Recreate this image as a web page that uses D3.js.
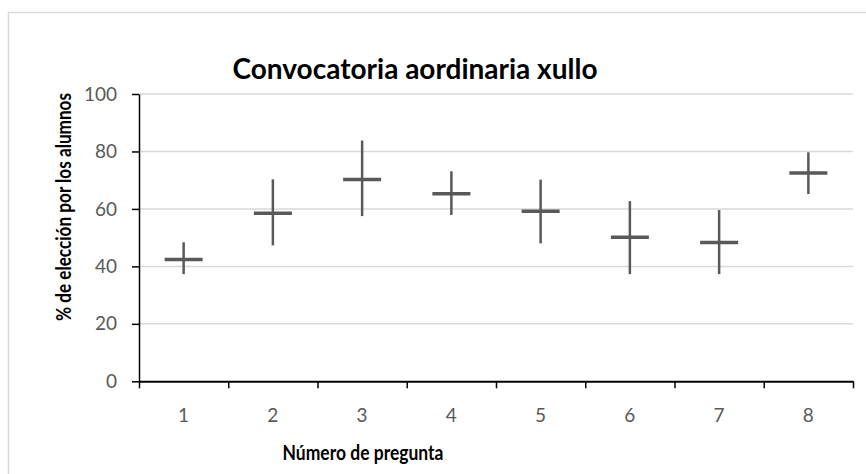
<!DOCTYPE html>
<html>
<head>
<meta charset="utf-8">
<script src="https://cdn.jsdelivr.net/npm/d3@7"></script>
<style>
  body { margin: 0; background: #fff; }
  svg { display: block; }
  text { font-family: Lato, "Open Sans", sans-serif; }
</style>
</head>
<body>
<div id="chart"></div>
<script>
// datos leidos do grafico
var preguntas = [1, 2, 3, 4, 5, 6, 7, 8];
var media  = [42.4, 58.5, 70.2, 65.3, 59.2, 50.1, 48.3, 72.5];
var maximo = [48.4, 70.3, 83.8, 73.1, 70.2, 62.7, 59.6, 79.7];
var minimo = [37.3, 47.3, 57.5, 57.9, 48.0, 37.3, 37.3, 65.2];
var yTicks = [0, 20, 40, 60, 80, 100];

var titulo = "Convocatoria aordinaria xullo";
var tituloX = "Número de pregunta";
var tituloY = "% de elección por los alumnos";

var W = 866, H = 474;
var plotLeft = 139, plotRight = 853, plotTop = 94, plotBottom = 381.3;

var svg = d3.select("#chart").append("svg")
    .attr("width", W)
    .attr("height", H);

// marco do grafico
svg.append("rect")
    .attr("x", 8.5).attr("y", 12.5)
    .attr("width", W + 10).attr("height", H + 10)
    .style("fill", "#fff")
    .style("stroke", "#d9d9d9")
    .style("stroke-width", 1.5);

var xScale = d3.scaleBand().domain(preguntas).range([plotLeft, plotRight]);
var xEdge = d3.scaleLinear().domain([0, preguntas.length]).range([plotLeft, plotRight]);
var yScale = d3.scaleLinear().domain([0, 100]).range([plotBottom, plotTop]);

// grella
svg.append("g").selectAll("line")
    .data(yTicks.filter(function(d) { return d > 0; }))
    .enter().append("line")
    .attr("x1", plotLeft).attr("x2", plotRight)
    .attr("y1", function(d) { return yScale(d); })
    .attr("y2", function(d) { return yScale(d); })
    .style("stroke", "#d9d9d9")
    .style("stroke-width", 1.5);

// eixo y
var yAxis = svg.append("g")
    .attr("transform", "translate(" + plotLeft + ",0)")
    .call(d3.axisLeft(yScale).tickValues(yTicks).tickSize(7).tickSizeOuter(0).tickPadding(15));
yAxis.select(".domain").style("stroke", "#000").style("stroke-width", 1.5);
yAxis.selectAll(".tick line").style("stroke", "#000").style("stroke-width", 1.5);
yAxis.selectAll("text").style("font-size", "19px").style("fill", "#595959");

// eixo x: marcas entre categorias
var xTicks = svg.append("g")
    .attr("transform", "translate(0," + plotBottom + ")")
    .call(d3.axisBottom(xEdge).tickValues(d3.range(preguntas.length + 1)).tickFormat("").tickSize(7).tickSizeOuter(0));
xTicks.select(".domain").style("stroke", "#000").style("stroke-width", 2);
xTicks.selectAll(".tick line").style("stroke", "#000").style("stroke-width", 1.5);

// eixo x: etiquetas
var xLab = svg.append("g")
    .attr("transform", "translate(0," + plotBottom + ")")
    .call(d3.axisBottom(xScale).tickSize(0).tickPadding(27));
xLab.select(".domain").remove();
xLab.selectAll("text").style("font-size", "19px").style("fill", "#595959");

// barras de rango e marcas da media
var datos = preguntas.map(function(p, i) {
    return { p: p, media: media[i], max: maximo[i], min: minimo[i] };
});
var marcas = svg.append("g").selectAll("g").data(datos).enter().append("g");
marcas.append("line")
    .attr("x1", function(d) { return xScale(d.p) + xScale.bandwidth() / 2; })
    .attr("x2", function(d) { return xScale(d.p) + xScale.bandwidth() / 2; })
    .attr("y1", function(d) { return yScale(d.max); })
    .attr("y2", function(d) { return yScale(d.min); })
    .style("stroke", "#595959")
    .style("stroke-width", 2.5);
marcas.append("line")
    .attr("x1", function(d) { return xScale(d.p) + xScale.bandwidth() / 2 - 19; })
    .attr("x2", function(d) { return xScale(d.p) + xScale.bandwidth() / 2 + 19; })
    .attr("y1", function(d) { return yScale(d.media); })
    .attr("y2", function(d) { return yScale(d.media); })
    .style("stroke", "#595959")
    .style("stroke-width", 3.5);

// titulos
svg.append("text")
    .attr("x", 415).attr("y", 79)
    .attr("text-anchor", "middle")
    .style("font-size", "28px").style("font-weight", "bold").style("fill", "#000")
    .text(titulo);
svg.append("text")
    .attr("x", 363).attr("y", 460)
    .attr("text-anchor", "middle")
    .attr("textLength", 161).attr("lengthAdjust", "spacingAndGlyphs")
    .style("font-size", "20px").style("font-weight", "bold").style("fill", "#000")
    .text(tituloX);
svg.append("text")
    .attr("transform", "translate(71,207) rotate(-90)")
    .attr("text-anchor", "middle")
    .attr("textLength", 228).attr("lengthAdjust", "spacingAndGlyphs")
    .style("font-size", "20px").style("font-weight", "bold").style("fill", "#000")
    .text(tituloY);
</script>
</body>
</html>
